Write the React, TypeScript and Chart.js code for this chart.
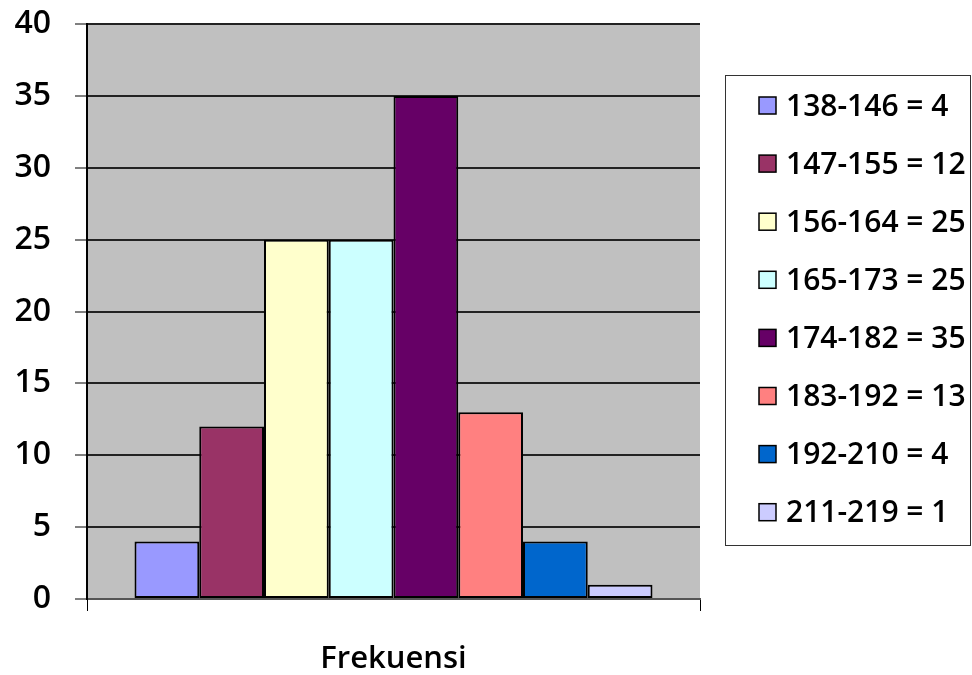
import React, { useEffect, useRef } from "react";
import { Chart, registerables } from "chart.js";

Chart.register(...registerables);

const categories = ["Frekuensi"];
const seriesLabels = [
  "138-146 = 4",
  "147-155 = 12",
  "156-164 = 25",
  "165-173 = 25",
  "174-182 = 35",
  "183-192 = 13",
  "192-210 = 4",
  "211-219 = 1",
];
const seriesValues = [4, 12, 25, 25, 35, 13, 4, 1];
const seriesColors = [
  "#9999FF",
  "#993366",
  "#FFFFCC",
  "#CCFFFF",
  "#660066",
  "#FF8080",
  "#0066CC",
  "#CCCCFF",
];
const yMin = 0;
const yMax = 40;
const yStep = 5;

const FONT = "'Open Sans', 'DejaVu Sans', sans-serif";

const plotBackground = {
  id: "plotBackground",
  beforeDraw(chart: any) {
    const { ctx, chartArea } = chart;
    ctx.save();
    ctx.fillStyle = "#C0C0C0";
    ctx.fillRect(chartArea.left, chartArea.top, chartArea.right - chartArea.left, chartArea.bottom - chartArea.top);
    ctx.restore();
  },
};

const boxedLegend = {
  id: "boxedLegend",
  afterDraw(chart: any) {
    const { ctx } = chart;
    const boxLeft = 725.5;
    const boxTop = 75.5;
    const boxW = 245;
    const boxH = 470;
    ctx.save();
    ctx.fillStyle = "#FFFFFF";
    ctx.fillRect(boxLeft, boxTop, boxW, boxH);
    ctx.strokeStyle = "#333333";
    ctx.lineWidth = 1;
    ctx.strokeRect(boxLeft, boxTop, boxW, boxH);
    const firstY = 106;
    const gap = 58.1;
    ctx.font = `600 30px ${FONT}`;
    ctx.textBaseline = "middle";
    ctx.textAlign = "left";
    chart.data.datasets.forEach((ds: any, i: number) => {
      const cy = firstY + i * gap;
      ctx.fillStyle = ds.backgroundColor;
      ctx.fillRect(759, cy - 9, 17, 17);
      ctx.strokeStyle = "#000";
      ctx.lineWidth = 1.5;
      ctx.strokeRect(759, cy - 9, 17, 17);
      ctx.fillStyle = "#000";
      ctx.fillText(ds.label, 786, cy + 1);
    });
    ctx.restore();
  },
};

export default function App() {
  const ref = useRef<HTMLCanvasElement | null>(null);

  useEffect(() => {
    document.body.style.margin = "0";
    const canvas = ref.current;
    if (!canvas) return;
    const chart = new Chart(canvas, {
      type: "bar",
      data: {
        labels: categories,
        datasets: seriesLabels.map((label, i) => ({
          label,
          data: [seriesValues[i]],
          backgroundColor: seriesColors[i],
          borderColor: "#000000",
          borderWidth: 2,
          borderSkipped: false,
          barPercentage: 1,
          categoryPercentage: 0.845,
        })),
      },
      options: {
        animation: false,
        responsive: false,
        maintainAspectRatio: false,
        layout: { padding: { left: 0, right: 272, top: 24, bottom: 0 } },
        plugins: {
          legend: { display: false },
          tooltip: { enabled: false },
          title: { display: false },
        },
        scales: {
          x: {
            afterFit(scale: any) {
              scale.height = 76;
              scale.paddingLeft = 0;
              scale.paddingRight = 0;
            },
            grid: {
              offset: true,
              drawOnChartArea: false,
              drawTicks: true,
              tickLength: 12,
              color: "#000000",
              lineWidth: 1,
            },
            border: { display: true, color: "#555555", width: 2 },
            ticks: {
              color: "#000000",
              font: { family: FONT, size: 31, weight: "600" },
              padding: 30,
            },
          },
          y: {
            min: yMin,
            max: yMax,
            afterFit(scale: any) {
              scale.width = 87;
              scale.paddingTop = 0;
              scale.paddingBottom = 0;
            },
            ticks: {
              stepSize: yStep,
              color: "#000000",
              font: { family: FONT, size: 32, weight: "600" },
              padding: 24,
            },
            grid: {
              color: "#222222",
              lineWidth: 2,
              tickLength: 12,
              tickColor: "#000000",
              tickWidth: 1,
            },
            border: { display: true, color: "#000000", width: 2 },
          },
        },
      },
      plugins: [plotBackground, boxedLegend],
    });
    return () => chart.destroy();
  }, []);

  return (
    <div style={{ position: "absolute", left: 0, top: 0, width: 972, height: 675, background: "#fff" }}>
      <canvas ref={ref} width={972} height={675} style={{ width: 972, height: 675 }} />
    </div>
  );
}
